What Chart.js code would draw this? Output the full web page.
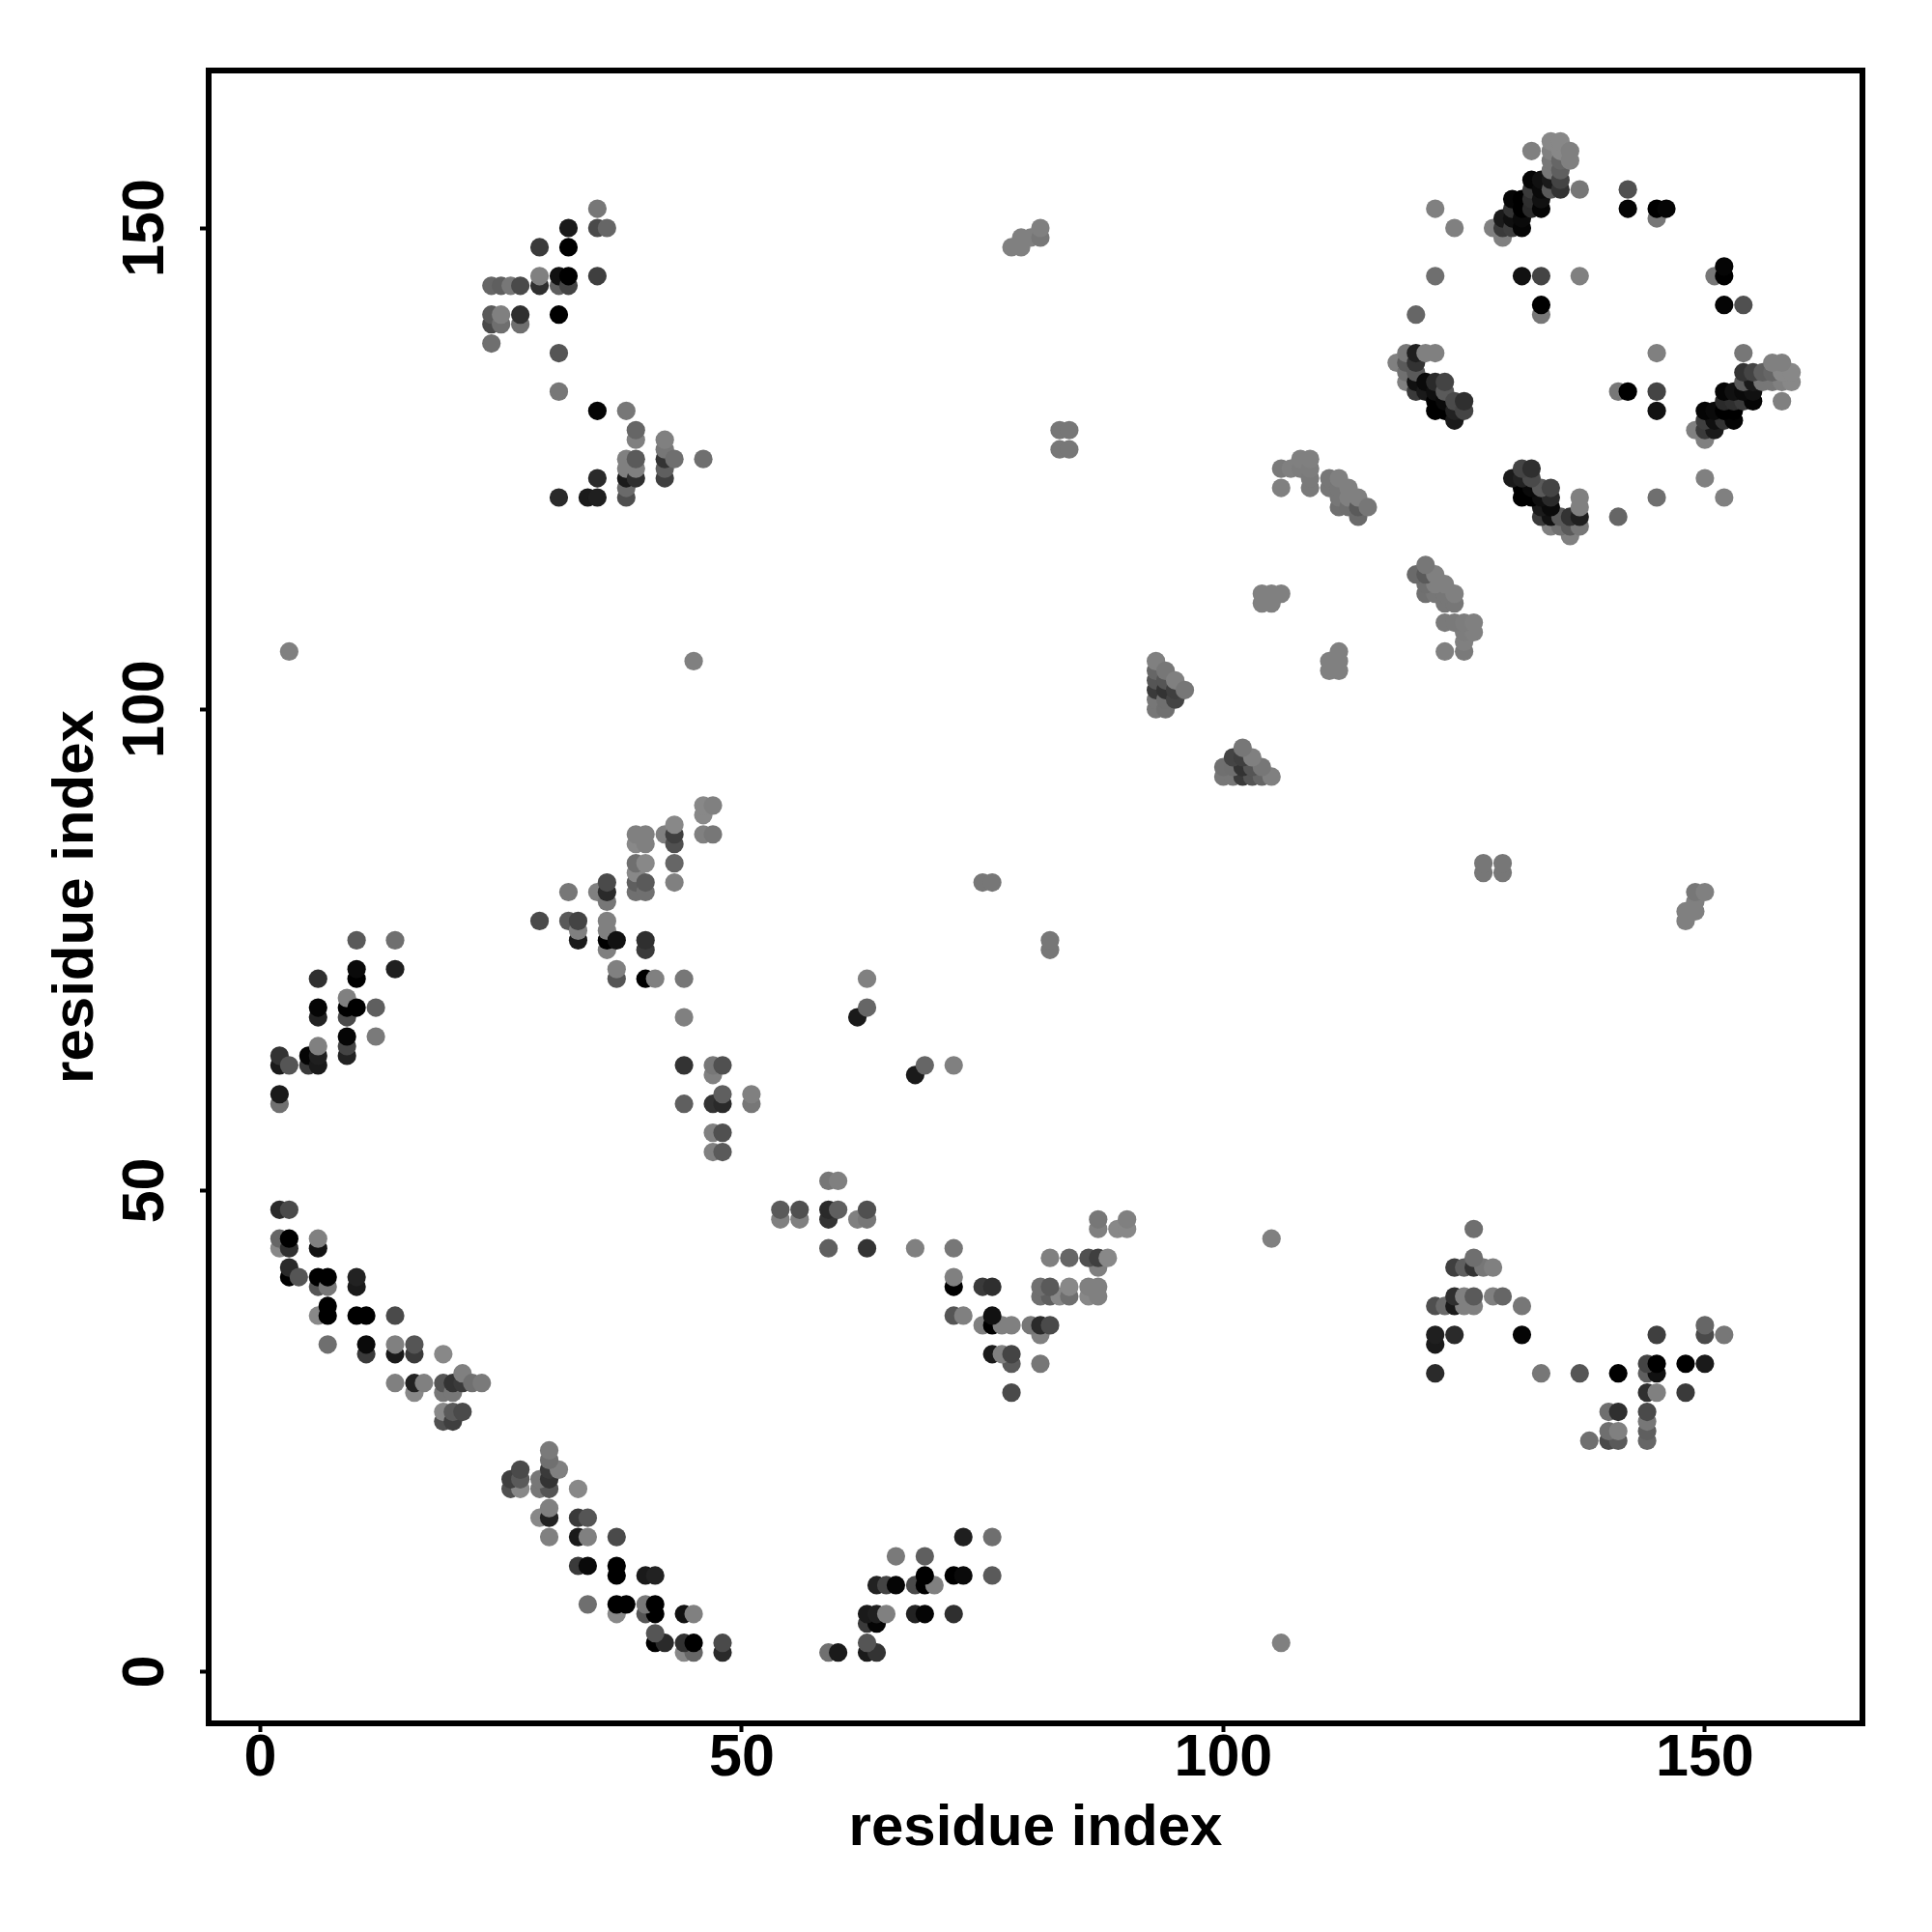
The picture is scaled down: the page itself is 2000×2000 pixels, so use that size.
<!DOCTYPE html>
<html>
<head>
<meta charset="utf-8">
<style>
  body { margin: 0; background: #fff; }
</style>
<script src="https://cdn.jsdelivr.net/npm/chart.js@4/dist/chart.umd.min.js"></script>
</head>
<body>
<canvas id="contact-map" width="2000" height="2000" style="width:2000px;height:2000px;display:block"></canvas>
<script>
var tickValues = [0, 50, 100, 150];
var axisLabel = 'residue index';

// each row: one residue, the residues it contacts, and the grey level of each contact
var residues = [2, 3, 4, 5, 6, 7, 9, 10, 11, 12, 14, 16, 17, 19, 20, 21, 22, 23, 24, 25, 26, 27, 29, 31, 32, 33, 34, 35, 36, 37, 38, 39, 40, 41, 42, 43, 44, 45, 46, 47, 48, 51, 62, 63, 75, 76, 78, 79, 80, 81, 83, 84, 93, 94, 95, 96, 104, 105, 106, 107, 108, 109, 111, 112, 113, 114, 115, 118, 119, 120, 121, 122, 123, 124, 125, 128, 129, 130, 131, 132, 133, 134, 135, 136, 137, 142, 145, 146];
var partners = [
  [44, 45, 48, 59, 60, 63, 64],
  [41, 42, 44, 45, 48, 63, 106],
  [41],
  [63, 64],
  [37, 40, 41, 44, 45, 63, 64, 65, 68, 69, 72],
  [34, 37, 38, 40, 41],
  [64, 65, 66, 68, 69, 70],
  [37, 40, 41, 69, 72, 73, 76],
  [33, 34, 37],
  [66, 69],
  [30, 33, 34, 37, 73, 76],
  [29, 30, 33, 34],
  [30],
  [26, 27, 29, 30, 33],
  [26, 27, 29, 30],
  [27, 30, 31],
  [30],
  [30],
  [138, 140, 141, 144],
  [140, 141, 144],
  [144],
  [140, 141, 144],
  [78, 144, 145, 148],
  [122, 133, 137, 141, 144, 145],
  [78, 81, 144, 145, 148, 150],
  [76, 77, 78],
  [122],
  [81, 122, 124, 131, 145, 150, 152],
  [75, 76, 77, 78, 80, 81, 82, 150],
  [72, 73, 76],
  [122, 123, 124, 125, 126, 131],
  [81, 82, 83, 84, 86, 87, 124, 125, 126, 128, 129],
  [72, 75, 76, 81, 82, 84, 86, 87],
  [72],
  [87, 124, 125, 126, 127, 128],
  [82, 84, 86, 87, 88, 126],
  [59, 63, 68, 72],
  [105],
  [87, 89, 90, 126],
  [54, 56, 59, 62, 63, 87, 90],
  [54, 56, 59, 60, 63],
  [59, 60],
  [68],
  [69, 72],
  [82],
  [82],
  [148],
  [148, 149],
  [149],
  [149, 150],
  [127, 129],
  [127, 129],
  [100, 101, 102, 103, 104, 105],
  [100, 101, 102, 103, 104],
  [101, 102, 103],
  [102],
  [111, 112],
  [111, 112],
  [112, 123, 125],
  [125],
  [125, 126],
  [123, 124, 125, 126],
  [123, 124],
  [121, 122, 123, 124],
  [121, 122, 123],
  [120, 121, 122],
  [121],
  [136],
  [134, 135, 136, 137],
  [133, 134, 135, 136, 137, 141],
  [133, 134, 137],
  [131, 132, 133, 134, 137, 145, 152],
  [131, 132, 133, 134],
  [130, 131, 132, 150],
  [131, 132],
  [150],
  [149, 150, 151],
  [150, 151, 152, 153],
  [145, 150, 151, 152, 153],
  [152, 153, 154, 155, 158],
  [141, 142, 145, 152, 153, 154, 155],
  [154, 155, 156, 157, 158, 159],
  [154, 155, 156, 157, 158, 159],
  [157, 158],
  [145, 154],
  [152, 154],
  [151, 152],
  [152]
];
var greys = [
  [136, 102, 42, 112, 26, 26, 51],
  [0, 42, 48, 0, 74, 85, 128],
  [85],
  [58, 5],
  [136, 85, 0, 17, 128, 26, 31, 128, 34, 5, 47],
  [111, 0, 0, 119, 0],
  [34, 68, 5, 74, 0, 128],
  [0, 26, 34, 0, 0, 10, 90],
  [58, 10, 0],
  [122, 95],
  [128, 26, 128, 74, 31, 111],
  [136, 34, 58, 85],
  [128],
  [80, 136, 119, 85, 136],
  [63, 90, 119, 51],
  [74, 58, 128],
  [112],
  [122],
  [111, 74, 90, 102],
  [111, 128, 95],
  [119],
  [111, 47, 74],
  [74, 47, 128, 58],
  [42, 119, 85, 0, 95, 17],
  [90, 119, 68, 0, 0, 26],
  [26, 128, 68],
  [26],
  [128, 31, 42, 5, 63, 74, 119],
  [128, 0, 128, 128, 119, 42, 74, 102],
  [85, 128, 17],
  [79, 106, 26, 128, 128, 119],
  [112, 95, 136, 111, 136, 128, 47, 128, 90, 128, 102],
  [0, 58, 47, 112, 90, 136, 128, 128],
  [128],
  [128, 63, 95, 51, 119, 128],
  [128, 102, 80, 63, 136, 111],
  [95, 51, 128, 119],
  [128],
  [128, 136, 136, 111],
  [128, 128, 51, 128, 119, 119, 128],
  [90, 80, 42, 95, 80],
  [119, 128],
  [26],
  [102, 128],
  [119],
  [119],
  [128],
  [128, 128],
  [128],
  [119, 128],
  [119, 119],
  [119, 119],
  [119, 119, 58, 85, 102, 128],
  [112, 111, 51, 85, 119],
  [68, 63, 128],
  [119],
  [128, 128],
  [128, 128],
  [128, 128, 122],
  [128],
  [125, 128],
  [122, 122, 125, 128],
  [119, 119],
  [112, 119, 119, 128],
  [111, 128, 128],
  [106, 90, 128],
  [119],
  [128],
  [128, 112, 90, 119],
  [58, 17, 90, 51, 31, 102],
  [26, 10, 128],
  [0, 0, 15, 42, 128, 111, 128],
  [0, 10, 90, 68],
  [26, 34, 74, 128],
  [68, 47],
  [128],
  [128, 58, 26],
  [63, 15, 51, 5],
  [17, 5, 10, 0, 0],
  [42, 47, 58, 5, 128],
  [119, 0, 68, 5, 17, 10, 17],
  [90, 26, 119, 119, 128, 136],
  [51, 68, 95, 102, 136, 136],
  [128, 128],
  [128, 119],
  [5, 80],
  [119, 0],
  [5]
];

// the map is symmetric, every contact is plotted both ways round
var points = [];
var pointColors = [];
residues.forEach(function(residue, row) {
  partners[row].forEach(function(partner, k) {
    var g = greys[row][k];
    var color = 'rgb(' + g + ',' + g + ',' + g + ')';
    points.push({x: residue, y: partner});
    pointColors.push(color);
    points.push({x: partner, y: residue});
    pointColors.push(color);
  });
});

var frame = {
  id: 'frame',
  afterDraw: function(chart) {
    var ctx = chart.ctx;
    var area = chart.chartArea;
    ctx.save();
    ctx.strokeStyle = '#000';
    ctx.lineWidth = 6;
    ctx.strokeRect(area.left, area.top, area.right - area.left, area.bottom - area.top);
    ctx.restore();
  }
};

var titleFont = {family: '"Liberation Sans"', size: 60, weight: 'bold', lineHeight: 1};
var tickFont = {family: '"Liberation Sans"', size: 61, weight: 'bold', lineHeight: 1};

function axis(extra) {
  return Object.assign({
    type: 'linear',
    min: -5.36,
    max: 166.36,
    grid: {drawOnChartArea: false, tickLength: 9, tickWidth: 4, tickColor: '#000'},
    border: {display: false}
  }, extra);
}

new Chart(document.getElementById('contact-map'), {
  type: 'scatter',
  data: {
    datasets: [{
      data: points,
      pointRadius: 9.6,
      pointBorderWidth: 0,
      pointBackgroundColor: pointColors
    }]
  },
  options: {
    responsive: false,
    devicePixelRatio: 1,
    animation: false,
    layout: {padding: {top: 73, right: 72}},
    plugins: {legend: {display: false}, tooltip: {enabled: false}},
    scales: {
      x: axis({
        afterBuildTicks: function(scale) { scale.ticks = tickValues.map(function(v) { return {value: v}; }); },
        afterFit: function(scale) { scale.height = 216; },
        ticks: {color: '#000', font: tickFont, padding: -2, maxRotation: 0, autoSkip: false},
        title: {display: true, text: axisLabel, color: '#000', font: titleFont, padding: {top: 0, bottom: 77}}
      }),
      y: axis({
        afterBuildTicks: function(scale) { scale.ticks = tickValues.map(function(v) { return {value: v}; }); },
        afterFit: function(scale) { scale.width = 216; },
        ticks: {color: '#000', font: tickFont, padding: 4, minRotation: 90, maxRotation: 90, crossAlign: 'center', autoSkip: false},
        title: {display: true, text: axisLabel, color: '#000', font: titleFont, padding: {top: 49, bottom: 0}}
      })
    }
  },
  plugins: [frame]
});
</script>
</body>
</html>
